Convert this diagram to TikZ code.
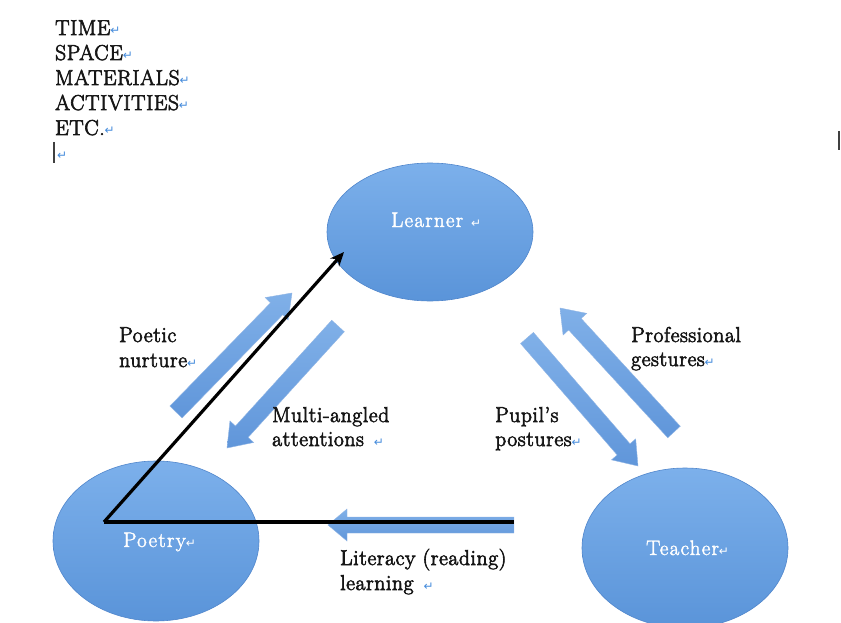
\documentclass[tikz,border=0pt]{standalone}
\usepackage{fontspec}
\newfontfamily\symf{DejaVu Sans}
\newfontfamily\lblfont{Latin Modern Roman}[FakeBold=3, LetterSpace=3]
\newfontfamily\wlblfont{Latin Modern Roman}[FakeBold=2, LetterSpace=6]
\usetikzlibrary{shapes.geometric,arrows.meta,calc}
\definecolor{ellTop}{RGB}{124,176,235}
\definecolor{ellBot}{RGB}{90,148,217}
\definecolor{ellEdge}{RGB}{80,134,204}
\definecolor{arrA}{RGB}{128,176,232}
\definecolor{arrB}{RGB}{96,150,218}
\definecolor{retblue}{RGB}{70,140,220}
\definecolor{ink}{RGB}{22,22,22}
\newcommand{\rmk}{{\symf\fontsize{12}{12}\selectfont\textcolor{retblue}{↵}}}
\newcommand{\wrmk}{{\symf\fontsize{12}{12}\selectfont\textcolor{white}{↵}}}
% tail, head, half shaft width, half head width, head length
\newcommand{\blockarrow}[5]{%
  \coordinate (ba-b) at ($(#2)!#5!(#1)$);
  \shade[arrowbody]
    ($(#1)!#3!90:(#2)$) -- ($(ba-b)!#3!90:(#2)$) -- ($(ba-b)!#4!90:(#2)$) --
    (#2) --
    ($(ba-b)!#4!-90:(#2)$) -- ($(ba-b)!#3!-90:(#2)$) -- ($(#1)!#3!-90:(#2)$) -- cycle;
}
\begin{document}
\begin{tikzpicture}[x=1pt,y=-1pt,
  lbl/.style={anchor=base west, inner sep=0pt, font=\lblfont\fontsize{21.5}{24}\selectfont, text=ink},
  wlbl/.style={anchor=base west, inner sep=0pt, font=\wlblfont\fontsize{21}{24}\selectfont, text=white},
  bubble/.style={ellipse, draw=ellEdge, line width=0.6pt, top color=ellTop, bottom color=ellBot,
    minimum width=206pt, minimum height=#1, inner sep=0pt},
  arrowbody/.style={top color=arrA, bottom color=arrB, draw=arrB!70!white, line width=0.4pt},
  blackline/.style={draw=black, line width=3.2pt},
  cursor/.style={draw=black!75, line width=1.2pt}
]
\path[use as bounding box] (0,0) rectangle (841,623);
\clip (0,0) rectangle (841,623);
\fill[white] (0,0) rectangle (841,623);

% left list
\node[lbl] (t1) at (55,35) {TIME\rmk};
\node[lbl] (t2) at (55,60) {SPACE\rmk};
\node[lbl] (t3) at (55,85) {MATERIALS\rmk};
\node[lbl] (t4) at (55,110) {ACTIVITIES\rmk};
\node[lbl] (t5) at (55,135) {ETC.\rmk};
\node[lbl] (t6) at (57,160) {\rmk};
\coordinate (cur1a) at (54,142);
\coordinate (cur1b) at (54,163);
\draw[cursor] (cur1a) -- (cur1b);
\coordinate (cur2a) at (839,131);
\coordinate (cur2b) at (839,150);
\draw[cursor] (cur2a) -- (cur2b);

% ellipses
\node[bubble=138pt] (learner) at (430,232) {};
\node[bubble=160pt] (poetry) at (156,541) {};
\node[bubble=160pt] (teacher) at (685,548) {};

\node[wlbl] (learnerT) at (391,227) {Learner\hspace{8pt}\wrmk};
\node[wlbl] (poetryT) at (123,547) {Poetry\wrmk};
\node[wlbl] (teacherT) at (646,555) {Teacher\wrmk};

% block arrows
\coordinate (a1t) at (176,412); \coordinate (a1h) at (292,293);
\coordinate (a2t) at (338,326); \coordinate (a2h) at (227,448);
\coordinate (a3t) at (527,338); \coordinate (a3h) at (638,466);
\coordinate (a4t) at (674,432); \coordinate (a4h) at (560,308);
\coordinate (a5t) at (514,525); \coordinate (a5h) at (328,525);
\blockarrow{a1t}{a1h}{8.5pt}{16pt}{22pt}
\blockarrow{a2t}{a2h}{8.5pt}{16pt}{22pt}
\blockarrow{a3t}{a3h}{8.5pt}{16pt}{22pt}
\blockarrow{a4t}{a4h}{8.5pt}{16pt}{22pt}
\blockarrow{a5t}{a5h}{8pt}{16pt}{19pt}

% black lines
\coordinate (pc) at (104,522);
\coordinate (lp) at (344,252);
\coordinate (le) at (514,522);
\draw[blackline, -{Stealth[length=14pt,width=12pt]}] (pc) -- (lp);
\draw[blackline] (pc) -- (le);

% labels
\node[lbl] (pn1) at (119,342) {Poetic};
\node[lbl] (pn2) at (119,367) {nurture\rmk};
\node[lbl] (ma1) at (272,422) {Multi-angled};
\node[lbl] (ma2) at (272,446) {attentions\hspace{10pt}\rmk};
\node[lbl] (pg1) at (631,342) {Professional};
\node[lbl] (pg2) at (631,366) {gestures\rmk};
\node[lbl] (pp1) at (495,422) {Pupil’s};
\node[lbl] (pp2) at (495,446) {postures\rmk};
\node[lbl] (ll1) at (340,565) {Literacy (reading)};
\node[lbl] (ll2) at (340,590) {learning\hspace{10pt}\rmk};
\end{tikzpicture}
\end{document}
